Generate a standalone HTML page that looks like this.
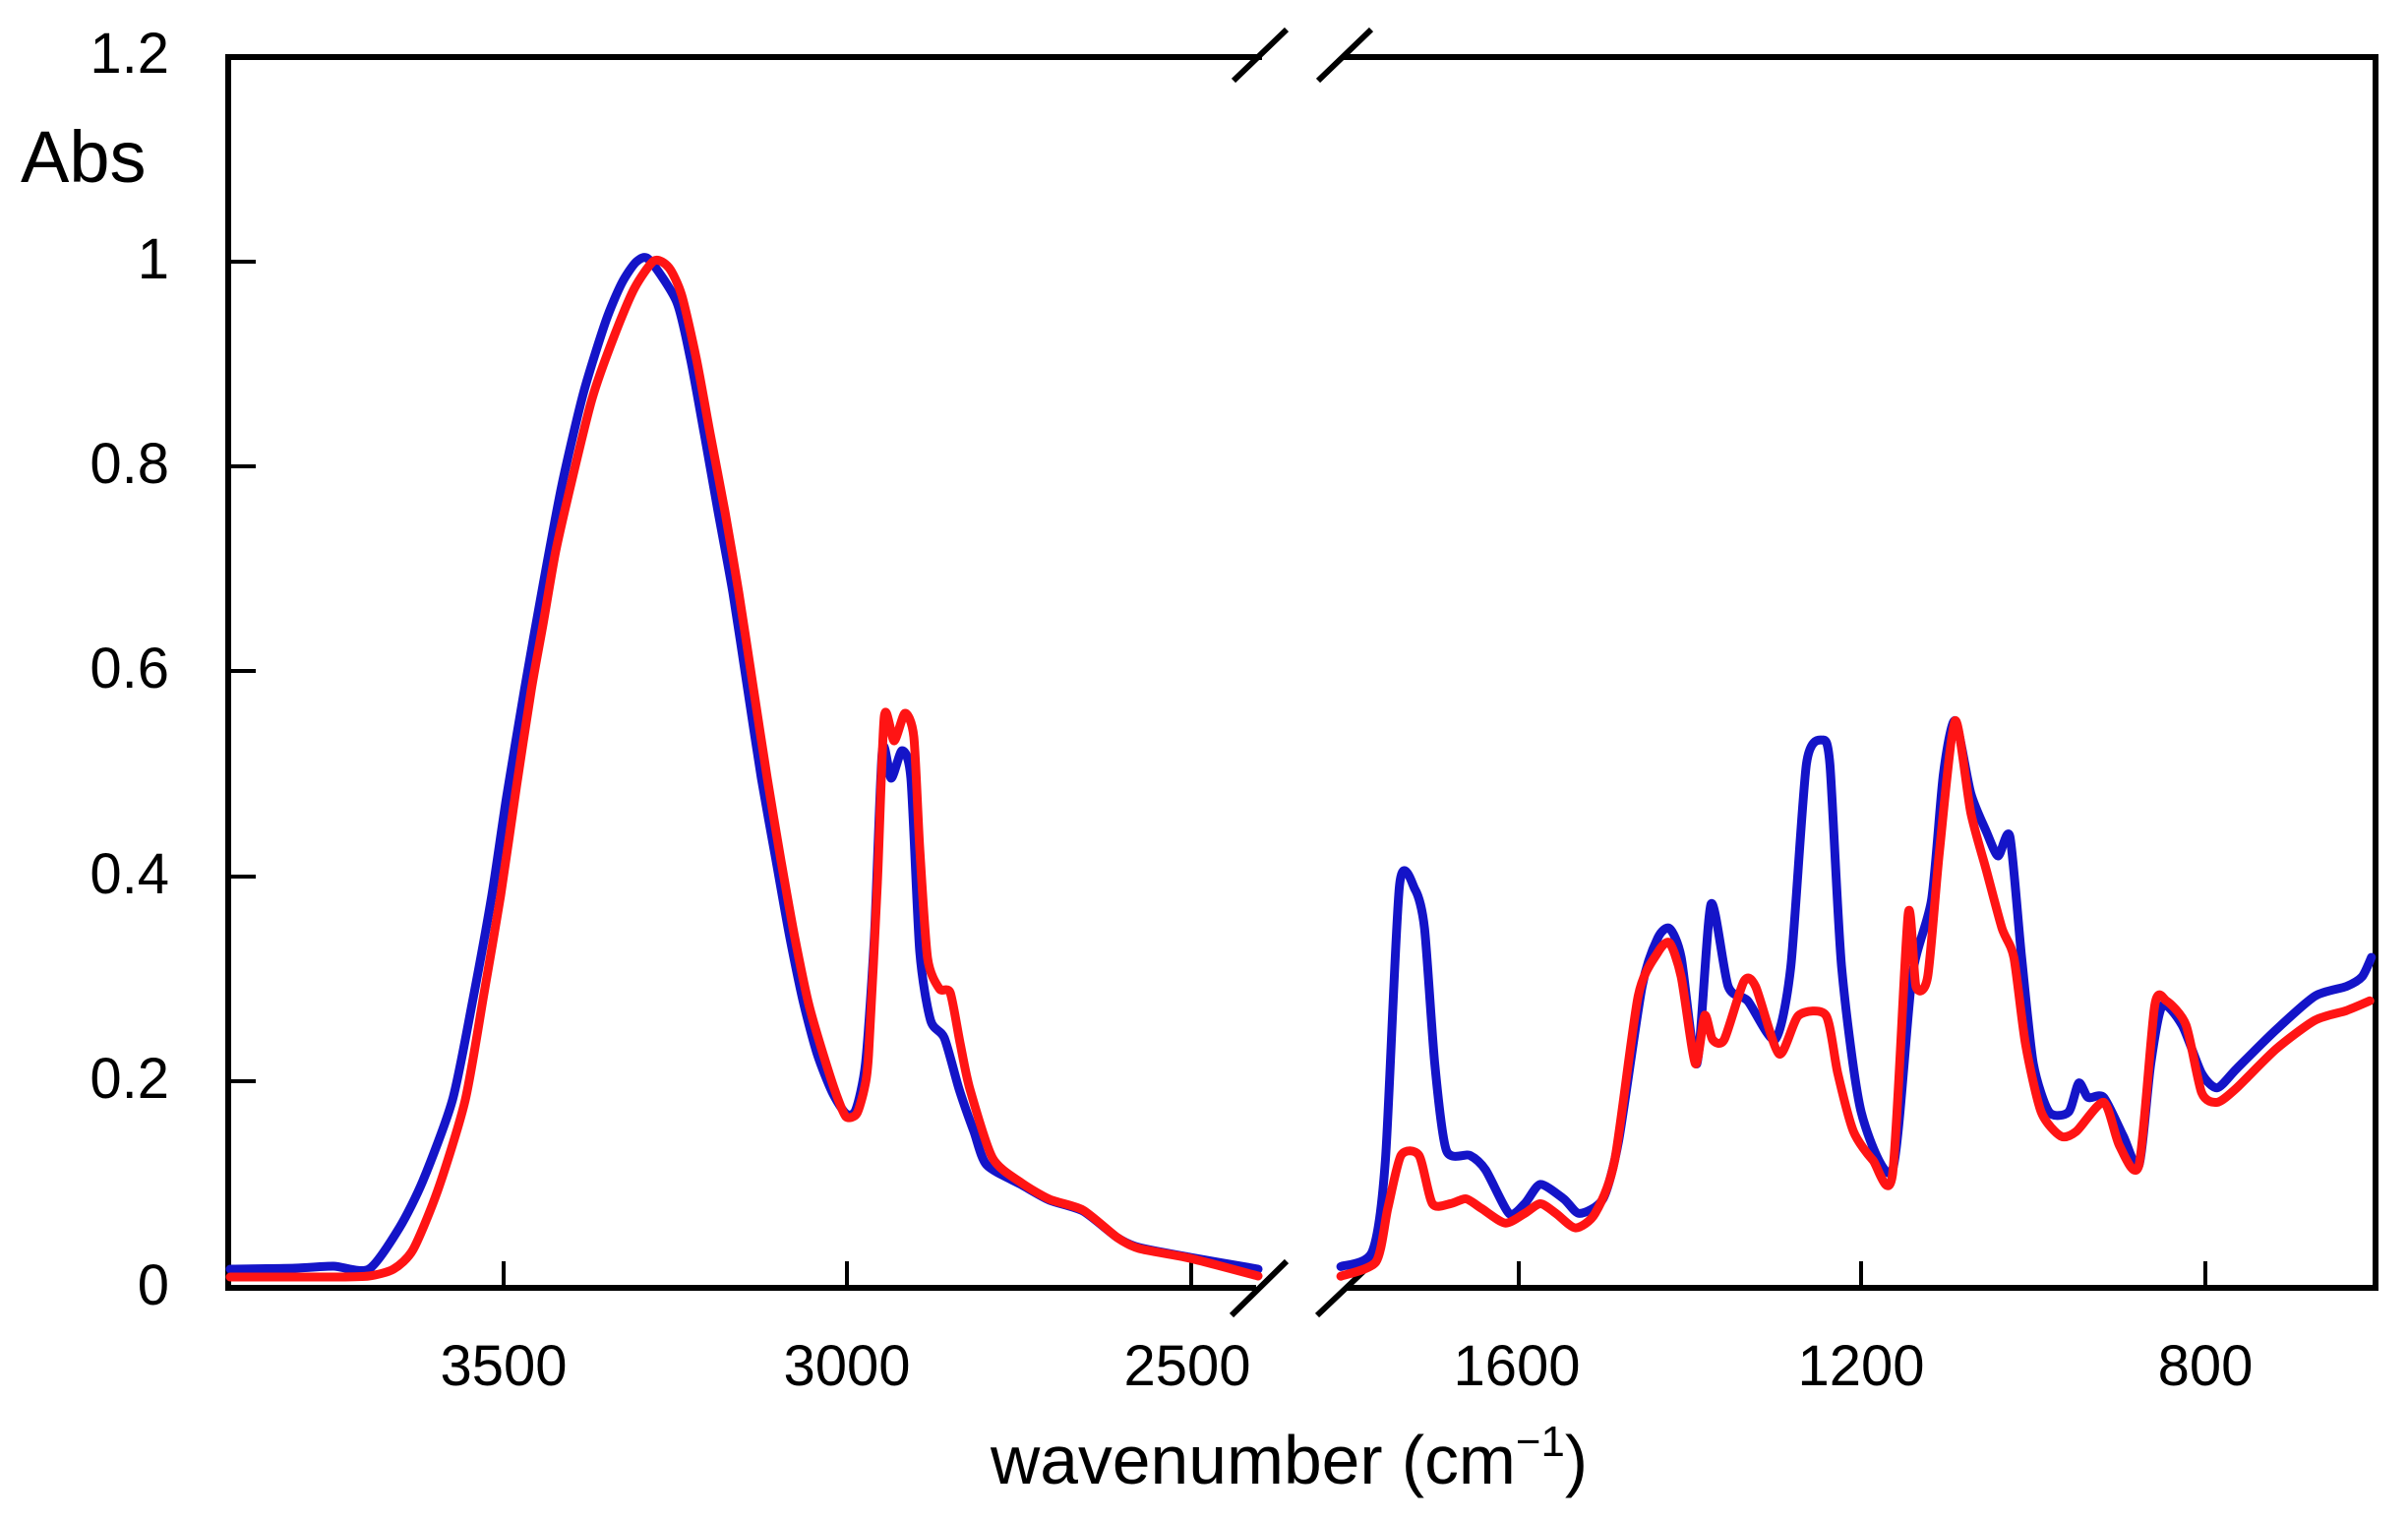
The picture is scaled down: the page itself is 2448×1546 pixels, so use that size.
<!DOCTYPE html>
<html><head><meta charset="utf-8"><style>
html,body{margin:0;padding:0;background:#fff;}
svg{display:block;}
text{font-family:"Liberation Sans",Arial,sans-serif;fill:#000;}
</style></head><body>
<svg id="s" width="2448" height="1546" viewBox="0 0 2448 1546" xmlns="http://www.w3.org/2000/svg">
<g stroke="#000" stroke-width="6" fill="none">
<line x1="232" y1="55" x2="232" y2="1310"/>
<line x1="2415" y1="55" x2="2415" y2="1310"/>
<line x1="229" y1="58" x2="1283" y2="58"/>
<line x1="1365" y1="58" x2="2418" y2="58"/>
<line x1="229" y1="1309" x2="1277" y2="1309"/>
<line x1="1369" y1="1309" x2="2418" y2="1309"/>
<line x1="1254" y1="82" x2="1308" y2="30"/>
<line x1="1340" y1="82" x2="1394" y2="30"/>
<line x1="1252" y1="1337" x2="1308" y2="1282"/>
<line x1="1339" y1="1337" x2="1397" y2="1282"/>
</g>
<g stroke="#000" stroke-width="4" fill="none">
<line x1="232" y1="266" x2="260" y2="266"/>
<line x1="232" y1="474" x2="260" y2="474"/>
<line x1="232" y1="682" x2="260" y2="682"/>
<line x1="232" y1="891" x2="260" y2="891"/>
<line x1="232" y1="1099" x2="260" y2="1099"/>
<line x1="512" y1="1309" x2="512" y2="1282"/>
<line x1="861" y1="1309" x2="861" y2="1282"/>
<line x1="1211" y1="1309" x2="1211" y2="1282"/>
<line x1="1544" y1="1309" x2="1544" y2="1282"/>
<line x1="1892" y1="1309" x2="1892" y2="1282"/>
<line x1="2242" y1="1309" x2="2242" y2="1282"/>
</g>
<g font-size="58" text-anchor="end">
<text x="172" y="74">1.2</text>
<text x="172" y="283">1</text>
<text x="172" y="491">0.8</text>
<text x="172" y="699">0.6</text>
<text x="172" y="908">0.4</text>
<text x="172" y="1116">0.2</text>
<text x="172" y="1326">0</text>
</g>
<text x="21" y="185" font-size="74">Abs</text>
<g font-size="58" text-anchor="middle">
<text x="512" y="1408">3500</text>
<text x="861" y="1408">3000</text>
<text x="1207" y="1408">2500</text>
<text x="1542" y="1408">1600</text>
<text x="1892" y="1408">1200</text>
<text x="2242" y="1408">800</text>
</g>
<text x="1007" y="1508" font-size="70" textLength="607" lengthAdjust="spacingAndGlyphs">wavenumber (cm<tspan dy="-28" font-size="44">−1</tspan><tspan dy="28">)</tspan></text>
<g id="curves" fill="none" stroke-width="9" stroke-linejoin="round" stroke-linecap="round"></g>
</svg>
<script>
function Y(zy){return 1307-(1330-zy)*(1249/1272);}
function R(a){return a.map(p=>[1200+p[0]/1.257,Y(p[1])]);}
function path(pts){
  var d='M'+pts[0][0].toFixed(1)+','+pts[0][1].toFixed(1);
  for(var i=0;i<pts.length-1;i++){
    var p0=pts[i-1]||pts[i],p1=pts[i],p2=pts[i+1],p3=pts[i+2]||p2,t=0.12;
    var c1=[p1[0]+(p2[0]-p0[0])*t,p1[1]+(p2[1]-p0[1])*t];
    var c2=[p2[0]-(p3[0]-p1[0])*t,p2[1]-(p3[1]-p1[1])*t];
    d+=' C'+c1[0].toFixed(1)+','+c1[1].toFixed(1)+' '+c2[0].toFixed(1)+','+c2[1].toFixed(1)+' '+p2[0].toFixed(1)+','+p2[1].toFixed(1);
  }
  return d;
}
var bl=[[234,1290],[300,1289],[339,1287],[375,1290],[406,1248],[430,1200],[460,1118],[480,1020],[500,910],[515,810],[533,702],[552,595],[571,494],[593,400],[616,326],[632,288],[647,266],[660,264],[688,307],[702,365],[716,441],[730,520],[745,602],[760,700],[774,791],[789,875],[803,953],[817,1020],[831,1072],[846,1110],[860,1132],[870,1128],[880,1080],[889,950],[897,763],[906,791],[917,763],[926,791],[935,967],[946,1037],[960,1055],[975,1107],[990,1150],[1003,1184],[1038,1204],[1067,1220],[1101,1231],[1136,1258],[1158,1268],[1210,1278],[1279,1290]];
var rl=[[234,1298],[300,1298],[339,1298],[375,1297],[400,1290],[420,1270],[445,1210],[473,1118],[492,1010],[509,910],[525,800],[540,702],[552,635],[565,560],[580,494],[602,405],[625,340],[645,293],[665,265],[680,272],[693,300],[708,365],[722,441],[737,520],[751,602],[766,700],[780,791],[794,875],[808,953],[822,1020],[837,1072],[850,1112],[860,1135],[871,1132],[879,1105],[883,1072],[892,897],[899,728],[909,753],[920,725],[929,749],[935,862],[943,974],[955,1005],[966,1009],[976,1060],[986,1107],[1009,1177],[1038,1202],[1067,1219],[1101,1230],[1136,1258],[1158,1269],[1210,1279],[1279,1297]];
var br=[[205,1310],[245,1295],[262,1200],[280,915],[300,920],[312,960],[325,1100],[340,1190],[370,1195],[390,1210],[420,1255],[440,1245],[460,1225],[490,1240],[510,1255],[540,1240],[560,1180],[590,1020],[610,970],[625,960],[640,990],[660,1100],[678,935],[700,1020],[725,1035],[760,1075],[780,1000],[800,790],[820,765],[830,790],[845,1000],[870,1150],[910,1210],[935,1010],[960,930],[975,800],[990,745],[1010,820],[1030,860],[1045,885],[1060,865],[1075,990],[1090,1100],[1110,1150],[1135,1150],[1148,1120],[1160,1135],[1180,1135],[1205,1175],[1225,1205],[1240,1100],[1255,1040],[1280,1060],[1305,1110],[1325,1125],[1350,1105],[1400,1065],[1450,1030],[1490,1020],[1510,1010],[1522,990]];
var rr=[[205,1320],[250,1305],[265,1250],[282,1195],[305,1195],[322,1245],[345,1245],[365,1240],[385,1250],[415,1265],[440,1255],[460,1245],[480,1255],[505,1270],[530,1255],[555,1200],[585,1030],[610,985],[625,975],[640,1010],[658,1100],[670,1050],[680,1075],[695,1075],[720,1015],[735,1020],[765,1090],[790,1050],[825,1050],[840,1110],[860,1170],[885,1200],[910,1215],[930,945],[940,1020],[955,1010],[970,880],[990,745],[1010,840],[1030,900],[1050,960],[1065,990],[1080,1080],[1100,1150],[1125,1175],[1145,1170],[1180,1140],[1200,1185],[1225,1205],[1245,1040],[1260,1035],[1285,1060],[1305,1130],[1325,1140],[1350,1125],[1400,1085],[1450,1055],[1490,1045],[1520,1035]];
var g=document.getElementById('curves'),ns='http://www.w3.org/2000/svg';
[[bl,'#1414c8'],[R(br),'#1414c8'],[rl,'#ff1414'],[R(rr),'#ff1414']].forEach(function(c){var p=document.createElementNS(ns,'path');p.setAttribute('d',path(c[0]));p.setAttribute('stroke',c[1]);g.appendChild(p);});
</script>
</body></html>
